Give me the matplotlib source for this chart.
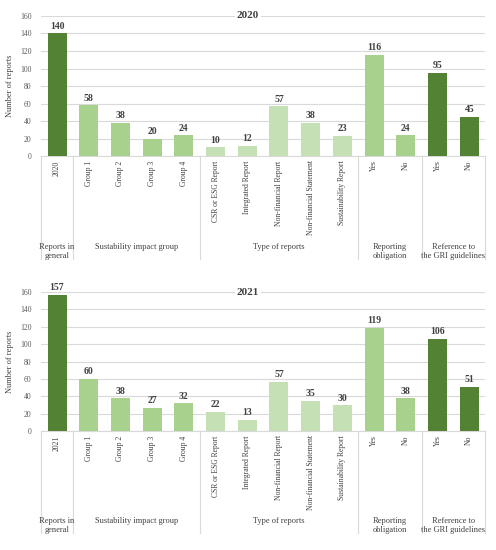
import matplotlib.pyplot as plt

# categories shared by both panels
categories = ["{year}", "Group 1", "Group 2", "Group 3", "Group 4",
              "CSR or ESG Report", "Integrated Report", "Non-financial Report",
              "Non-financial Statement", "Sustainability Report",
              "Yes", "No", "Yes", "No"]
group_names = ["Reports in\ngeneral", "Sustability impact group", "Type of reports",
               "Reporting\nobligation", "Reference to\nthe GRI guidelines"]
group_sizes = [1, 4, 5, 2, 2]

values_2020 = [140, 58, 38, 20, 24, 10, 12, 57, 38, 23, 116, 24, 95, 45]
values_2021 = [157, 60, 38, 27, 32, 22, 13, 57, 35, 30, 119, 38, 106, 51]

DARK = "#548235"
MID = "#a9d18e"
LIGHT = "#c5e0b4"
group_colors = [DARK, MID, LIGHT, MID, DARK]

plt.rcParams['font.family'] = ['Liberation Serif', 'DejaVu Serif']


def draw_panel(fig, ax, year, values):
    colors = []
    for c, n in zip(group_colors, group_sizes):
        colors += [c] * n
    x = list(range(len(values)))
    ax.bar(x, values, width=0.6, color=colors, zorder=3)
    for xi, v in zip(x, values):
        ax.text(xi, v + 3, str(v), ha="center", va="bottom", fontsize=7,
                color="#404040", fontweight="bold")

    ax.set_xlim(-0.5, len(values) - 0.5)
    ax.set_ylim(0, 160)
    ax.set_yticks(range(0, 161, 20))
    ax.tick_params(axis="y", labelsize=5.5, length=0, labelcolor="#595959", pad=7)
    ax.set_xticks([])
    ax.grid(axis="y", color="#d9d9d9", linewidth=0.8, zorder=0)
    for s in ["top", "right", "left"]:
        ax.spines[s].set_visible(False)
    ax.spines["bottom"].set_color("#d9d9d9")
    ax.set_ylabel("Number of reports", fontsize=6, color="#404040", labelpad=4)

    # title sits on the top gridline, centred on the figure
    top = ax.get_position().y1
    fig.text(0.5, top, year, ha="center", va="center", fontsize=8,
             fontweight="bold", color="#404040",
             bbox=dict(facecolor="white", edgecolor="none", pad=1.5))

    tr = ax.get_xaxis_transform()
    labels = [c.format(year=year) for c in categories]
    for xi, lab in zip(x, labels):
        ax.text(xi, -0.03, lab, rotation=90, ha="center", va="top",
                fontsize=5.5, color="#404040", transform=tr)

    start = -0.5
    ax.plot([start, start], [0, -0.73], color="#d9d9d9", lw=0.8,
            transform=tr, clip_on=False)
    for name, n in zip(group_names, group_sizes):
        end = start + n
        ax.plot([end, end], [0, -0.73], color="#d9d9d9", lw=0.8,
                transform=tr, clip_on=False)
        ax.text((start + end) / 2, -0.62, name, ha="center", va="top",
                fontsize=6, color="#404040", transform=tr, linespacing=1.15)
        start = end


fig = plt.figure(figsize=(4.96, 5.5), dpi=100)
ax1 = fig.add_axes([0.083, 0.716, 0.895, 0.255])
ax2 = fig.add_axes([0.083, 0.216, 0.895, 0.253])
draw_panel(fig, ax1, "2020", values_2020)
draw_panel(fig, ax2, "2021", values_2021)

fig.savefig("out.png", dpi=100)
